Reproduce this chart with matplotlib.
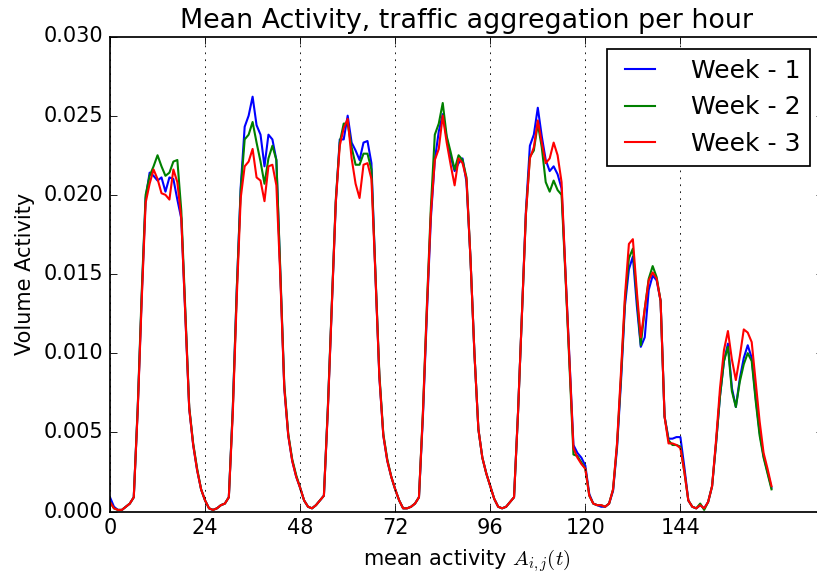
import matplotlib
matplotlib.use("Agg")
import matplotlib.pyplot as plt
import numpy as np

plt.style.use("classic")

# hourly mean activity, 7 days x 24 h, one list per week
week1 = [
    0.0009, 0.0003, 0.0001, 0.0001, 0.0003, 0.0005, 0.0009, 0.0065, 0.0135, 0.0198, 0.0214, 0.0212,
    0.0209, 0.0211, 0.0202, 0.0211, 0.0210, 0.0197, 0.0185, 0.0125, 0.0065, 0.0042, 0.0026, 0.0014,
    0.0007, 0.0002, 0.0001, 0.0002, 0.0004, 0.0005, 0.0009, 0.0065, 0.0140, 0.0205, 0.0243, 0.0250,
    0.0262, 0.0244, 0.0238, 0.0218, 0.0238, 0.0235, 0.0222, 0.0150, 0.0078, 0.0048, 0.0032, 0.0022,
    0.0015, 0.0007, 0.0003, 0.0002, 0.0004, 0.0007, 0.0010, 0.0065, 0.0130, 0.0195, 0.0235, 0.0235,
    0.0250, 0.0233, 0.0228, 0.0222, 0.0233, 0.0234, 0.0220, 0.0150, 0.0085, 0.0048, 0.0032, 0.0022,
    0.0014, 0.0007, 0.0002, 0.0002, 0.0003, 0.0005, 0.0009, 0.0060, 0.0125, 0.0185, 0.0222, 0.0240,
    0.0251, 0.0236, 0.0224, 0.0215, 0.0220, 0.0223, 0.0208, 0.0160, 0.0100, 0.0052, 0.0034, 0.0024,
    0.0016, 0.0008, 0.0003, 0.0002, 0.0003, 0.0006, 0.0009, 0.0062, 0.0125, 0.0190, 0.0231, 0.0238,
    0.0255, 0.0237, 0.0222, 0.0215, 0.0218, 0.0213, 0.0204, 0.0150, 0.0095, 0.0042, 0.0037, 0.0034,
    0.0029, 0.0011, 0.0005, 0.0004, 0.0003, 0.0003, 0.0005, 0.0013, 0.0040, 0.0082, 0.0130, 0.0153,
    0.0161, 0.0130, 0.0104, 0.0110, 0.0140, 0.0149, 0.0146, 0.0133, 0.0060, 0.0046, 0.0046, 0.0047,
    0.0047, 0.0028, 0.0007, 0.0003, 0.0002, 0.0004, 0.0002, 0.0006, 0.0016, 0.0043, 0.0073, 0.0095,
    0.0106, 0.0078, 0.0066, 0.0084, 0.0097, 0.0105, 0.0097, 0.0072, 0.0050, 0.0035, 0.0025, 0.0015,
]
week2 = [
    0.0006, 0.0002, 0.0001, 0.0001, 0.0003, 0.0005, 0.0009, 0.0066, 0.0138, 0.0200, 0.0212, 0.0218,
    0.0225, 0.0218, 0.0212, 0.0214, 0.0221, 0.0222, 0.0190, 0.0128, 0.0066, 0.0043, 0.0027, 0.0014,
    0.0007, 0.0002, 0.0001, 0.0002, 0.0004, 0.0005, 0.0009, 0.0065, 0.0140, 0.0203, 0.0235, 0.0238,
    0.0246, 0.0233, 0.0221, 0.0207, 0.0223, 0.0231, 0.0222, 0.0152, 0.0080, 0.0049, 0.0033, 0.0023,
    0.0015, 0.0007, 0.0003, 0.0002, 0.0004, 0.0007, 0.0010, 0.0066, 0.0132, 0.0197, 0.0233, 0.0245,
    0.0245, 0.0230, 0.0219, 0.0219, 0.0226, 0.0226, 0.0216, 0.0152, 0.0087, 0.0049, 0.0033, 0.0022,
    0.0014, 0.0007, 0.0002, 0.0002, 0.0003, 0.0005, 0.0009, 0.0063, 0.0130, 0.0192, 0.0238, 0.0245,
    0.0258, 0.0237, 0.0227, 0.0216, 0.0225, 0.0222, 0.0211, 0.0160, 0.0100, 0.0052, 0.0034, 0.0024,
    0.0016, 0.0008, 0.0003, 0.0002, 0.0003, 0.0006, 0.0009, 0.0062, 0.0125, 0.0188, 0.0224, 0.0228,
    0.0245, 0.0230, 0.0208, 0.0202, 0.0209, 0.0203, 0.0200, 0.0148, 0.0092, 0.0036, 0.0035, 0.0031,
    0.0027, 0.0010, 0.0005, 0.0004, 0.0004, 0.0003, 0.0005, 0.0014, 0.0042, 0.0085, 0.0133, 0.0160,
    0.0166, 0.0135, 0.0105, 0.0128, 0.0147, 0.0155, 0.0148, 0.0133, 0.0060, 0.0045, 0.0042, 0.0042,
    0.0041, 0.0025, 0.0007, 0.0003, 0.0002, 0.0005, 0.0001, 0.0006, 0.0016, 0.0043, 0.0073, 0.0095,
    0.0104, 0.0076, 0.0066, 0.0082, 0.0093, 0.0100, 0.0095, 0.0070, 0.0048, 0.0034, 0.0024, 0.0014,
]
week3 = [
    0.0006, 0.0002, 0.0001, 0.0001, 0.0003, 0.0005, 0.0009, 0.0064, 0.0133, 0.0195, 0.0207, 0.0216,
    0.0210, 0.0201, 0.0200, 0.0197, 0.0216, 0.0208, 0.0185, 0.0125, 0.0065, 0.0042, 0.0026, 0.0014,
    0.0007, 0.0002, 0.0001, 0.0002, 0.0004, 0.0005, 0.0009, 0.0062, 0.0135, 0.0198, 0.0218, 0.0221,
    0.0229, 0.0211, 0.0209, 0.0196, 0.0218, 0.0219, 0.0206, 0.0148, 0.0078, 0.0048, 0.0032, 0.0022,
    0.0015, 0.0007, 0.0003, 0.0002, 0.0004, 0.0007, 0.0010, 0.0064, 0.0130, 0.0195, 0.0231, 0.0242,
    0.0248, 0.0223, 0.0207, 0.0198, 0.0219, 0.0220, 0.0210, 0.0150, 0.0085, 0.0048, 0.0032, 0.0022,
    0.0014, 0.0007, 0.0002, 0.0002, 0.0003, 0.0005, 0.0009, 0.0062, 0.0128, 0.0188, 0.0222, 0.0229,
    0.0250, 0.0233, 0.0219, 0.0206, 0.0223, 0.0220, 0.0210, 0.0160, 0.0100, 0.0052, 0.0034, 0.0024,
    0.0016, 0.0008, 0.0003, 0.0002, 0.0003, 0.0006, 0.0009, 0.0062, 0.0125, 0.0188, 0.0223, 0.0230,
    0.0247, 0.0233, 0.0220, 0.0223, 0.0233, 0.0225, 0.0208, 0.0150, 0.0095, 0.0040, 0.0034, 0.0030,
    0.0027, 0.0010, 0.0005, 0.0004, 0.0004, 0.0003, 0.0005, 0.0014, 0.0043, 0.0088, 0.0136, 0.0169,
    0.0172, 0.0139, 0.0110, 0.0128, 0.0146, 0.0151, 0.0147, 0.0133, 0.0060, 0.0043, 0.0043, 0.0042,
    0.0040, 0.0025, 0.0007, 0.0003, 0.0002, 0.0004, 0.0002, 0.0006, 0.0016, 0.0045, 0.0078, 0.0102,
    0.0114, 0.0096, 0.0083, 0.0098, 0.0115, 0.0113, 0.0107, 0.0082, 0.0057, 0.0037, 0.0027, 0.0016,
]
labels = ["Week - 1", "Week - 2", "Week - 3"]
colors = ["b", "g", "r"]
day_ticks = [0, 24, 48, 72, 96, 120, 144]

hours = np.arange(len(week1))

DPI = 125
fig = plt.figure(figsize=(817 / DPI, 579 / DPI), dpi=DPI)
ax = fig.add_axes([110 / 817, 1 - 511.5 / 579, 713 / 817, 475 / 579])
for series, lab, col in zip([week1, week2, week3], labels, colors):
    ax.plot(hours, series, color=col, label=lab, linewidth=1.2)

ax.set_xlim(0, 180)
ax.set_ylim(0, 0.030)
ax.set_xticks(day_ticks)
ax.set_yticks(np.arange(0, 0.0301, 0.005))
ax.xaxis.grid(True)
ax.set_title("Mean Activity, traffic aggregation per hour", fontsize=15.5)
ax.set_xlabel("mean activity $A_{i,j}(t)$")
ax.set_ylabel("Volume Activity")
ax.legend(loc="upper right", handlelength=1.8, handletextpad=1.15)

fig.savefig("out.png", dpi=DPI)
